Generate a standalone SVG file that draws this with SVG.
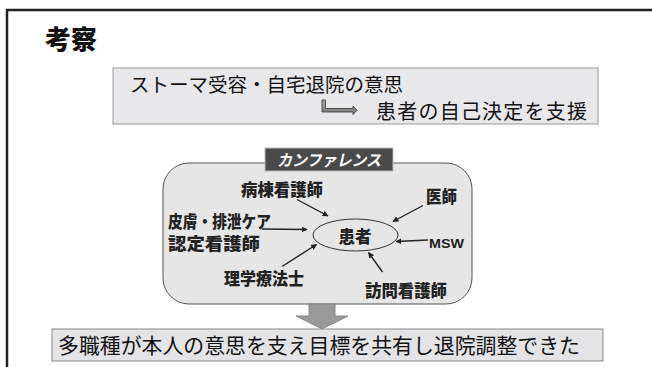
<svg xmlns="http://www.w3.org/2000/svg" width="652" height="367" viewBox="0 0 652 367">
<defs>
<style>
.jp{font-family:"Noto Sans CJK JP","Liberation Sans",sans-serif;}
.lbl{font-family:"Noto Sans CJK JP","Liberation Sans",sans-serif;font-weight:900;font-size:16.5px;fill:#222;}
.conn{stroke:#222;stroke-width:1.4;fill:none;marker-end:url(#ah);}
</style>
<marker id="ah" viewBox="0 0 10 10" refX="9" refY="5" markerWidth="6" markerHeight="6" orient="auto" markerUnits="userSpaceOnUse">
<path d="M0,0 L10,5 L0,10 z" fill="#222"/>
</marker>
<linearGradient id="bg" x1="0" y1="0" x2="0" y2="1">
<stop offset="0" stop-color="#aaa"/><stop offset="1" stop-color="#777"/>
</linearGradient>
</defs>
<rect width="652" height="367" fill="#fff"/>
<rect x="7" y="10" width="670" height="380" fill="#fff" stroke="#222" stroke-width="2.5"/>
<text class="jp" x="45" y="49" font-size="26" font-weight="900" fill="#111">考察</text>

<g id="top-box">
<rect x="113" y="68" width="485" height="56" fill="#e8e8ea" stroke="#999" stroke-width="1"/>
<text class="jp" x="130" y="92" font-size="19.5" fill="#111" textLength="273" lengthAdjust="spacingAndGlyphs">ストーマ受容・自宅退院の意思</text>
<path d="M322,100 L325.5,100 L325.5,108.5 L353,108.5 L353,106 L357,110.3 L353,114.5 L353,112 L322,112 z" fill="url(#bg)" stroke="#333" stroke-width="0.8"/>
<text class="jp" x="376" y="119" font-size="20" fill="#111" textLength="211" lengthAdjust="spacing">患者の自己決定を支援</text>
</g>

<g id="conference">
<rect x="163" y="163" width="309" height="141" rx="26" fill="#e6e6e6" stroke="#555" stroke-width="1"/>
<rect x="265" y="148" width="128" height="23" fill="#4a4a4a" stroke="#bbb" stroke-width="1"/>
<text class="jp" x="329" y="166" font-size="16" font-weight="700" font-style="italic" fill="#fff" text-anchor="middle" textLength="104" lengthAdjust="spacingAndGlyphs">カンファレンス</text>
</g>

<g id="patient">
<ellipse cx="355.5" cy="235" rx="42.5" ry="16" fill="#e6e6e6" stroke="#333" stroke-width="1"/>
<text class="lbl" x="355" y="242.5" font-size="20" text-anchor="middle">患者</text>
</g>
<g id="ward-nurse"><text class="lbl" x="241" y="196" textLength="82" lengthAdjust="spacingAndGlyphs">病棟看護師</text></g>
<g id="doctor"><text class="lbl" x="426" y="203" textLength="31" lengthAdjust="spacingAndGlyphs">医師</text></g>
<g id="wocn"><text class="lbl" x="168" y="227.5" font-size="14" textLength="103" lengthAdjust="spacingAndGlyphs">皮膚・排泄ケア</text>
<text class="lbl" x="168" y="250" font-size="14" textLength="92" lengthAdjust="spacingAndGlyphs">認定看護師</text></g>
<g id="msw"><text x="429" y="247.5" font-family="Liberation Sans, Arial, sans-serif" font-weight="700" font-size="13.5" fill="#222" textLength="35" lengthAdjust="spacingAndGlyphs">MSW</text></g>
<g id="pt"><text class="lbl" x="224" y="284.5" textLength="80" lengthAdjust="spacingAndGlyphs">理学療法士</text></g>
<g id="visit-nurse"><text class="lbl" x="365" y="296.5" textLength="82" lengthAdjust="spacingAndGlyphs">訪問看護師</text></g>

<g id="connectors">
<line class="conn" x1="297" y1="199.5" x2="328" y2="216"/>
<line class="conn" x1="423" y1="205.5" x2="393" y2="221.5"/>
<line class="conn" x1="262" y1="229" x2="307" y2="229.5"/>
<line class="conn" x1="428" y1="240" x2="396" y2="241.5"/>
<line class="conn" x1="282" y1="266.5" x2="316.5" y2="244.5"/>
<line class="conn" x1="382.5" y1="272" x2="368.5" y2="252.5"/>
<path d="M309,304 L335,304 L335,316 L348,316 L322,329 L296,316 L309,316 z" fill="#999" stroke="#888" stroke-width="1"/>
</g>

<g id="bottom-box">
<rect x="52" y="329" width="551" height="32" fill="#e4e4e6" stroke="#888" stroke-width="1"/>
<text class="jp" x="58" y="353" font-size="21" fill="#111" textLength="522" lengthAdjust="spacingAndGlyphs">多職種が本人の意思を支え目標を共有し退院調整できた</text>
</g>
</svg>
